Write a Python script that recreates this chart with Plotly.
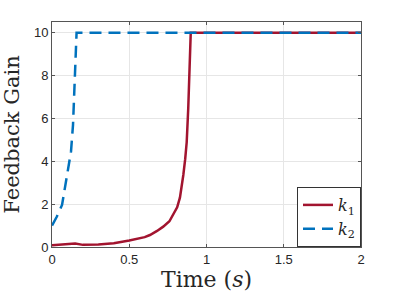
import plotly.graph_objects as go

t1 = [0, 0.05, 0.1, 0.15, 0.2, 0.3, 0.4, 0.5, 0.6, 0.634, 0.68, 0.72, 0.76, 0.785, 0.81, 0.828, 0.84, 0.85, 0.862, 0.872, 0.882, 0.888, 0.893, 0.898, 2]
k1 = [0.08, 0.1, 0.12, 0.16, 0.1, 0.12, 0.18, 0.3, 0.46, 0.56, 0.75, 0.95, 1.2, 1.5, 1.85, 2.3, 2.8, 3.36, 4.1, 4.9, 6.5, 7.7, 8.8, 10, 10]

t2 = [0, 0.03, 0.065, 0.097, 0.123, 0.136, 0.145, 0.151, 0.158, 0.159, 2]
k2 = [1.0, 1.4, 1.96, 3.3, 4.45, 5.7, 7.1, 8.4, 9.77, 10, 10]

xticks = [0, 0.5, 1, 1.5, 2]
xticklabels = ["0", "0.5", "1", "1.5", "2"]
yticks = [0, 2, 4, 6, 8, 10]

red = "#A2142F"
blue = "#0072BD"
serif = "DejaVu Serif, Liberation Serif, serif"
sans = "Liberation Sans, Arial, sans-serif"

fig = go.Figure()
fig.add_trace(go.Scatter(x=t1, y=k1, mode="lines", name="<i>k</i><sub>1</sub>",
                         line=dict(color=red, width=2.5)))
fig.add_trace(go.Scatter(x=t2, y=k2, mode="lines", name="<i>k</i><sub>2</sub>",
                         line=dict(color=blue, width=2.5, dash="12px,7px")))

axis_common = dict(showline=True, linecolor="#555555", linewidth=1, mirror="ticks",
                   ticks="inside", ticklen=3, tickcolor="#555555", automargin=False,
                   showgrid=True, gridcolor="#e6e6e6", gridwidth=1, zeroline=False,
                   tickfont=dict(family=sans, size=13, color="#262626"))

fig.update_layout(
    width=399, height=299,
    margin=dict(l=52, r=38, t=22, b=52),
    paper_bgcolor="white", plot_bgcolor="white",
    xaxis=dict(range=[0, 2], tickvals=xticks, ticktext=xticklabels,
               title=dict(text="Time (<i>s</i>)", font=dict(family=serif, size=22, color="#262626"), standoff=4),
               **axis_common),
    yaxis=dict(range=[0, 10.5], tickvals=yticks,
               title=dict(text="Feedback Gain", font=dict(family=serif, size=21, color="#262626"), standoff=8),
               **axis_common),
    legend=dict(x=1, y=0, xanchor="right", yanchor="bottom",
                bgcolor="white", bordercolor="#333333", borderwidth=1,
                font=dict(family=serif, size=16, color="#262626"),
                tracegroupgap=0, itemwidth=30),
    showlegend=True,
)

fig.write_html("out.html", config={"displayModeBar": False},
               post_script="document.body.style.margin='0px';")
